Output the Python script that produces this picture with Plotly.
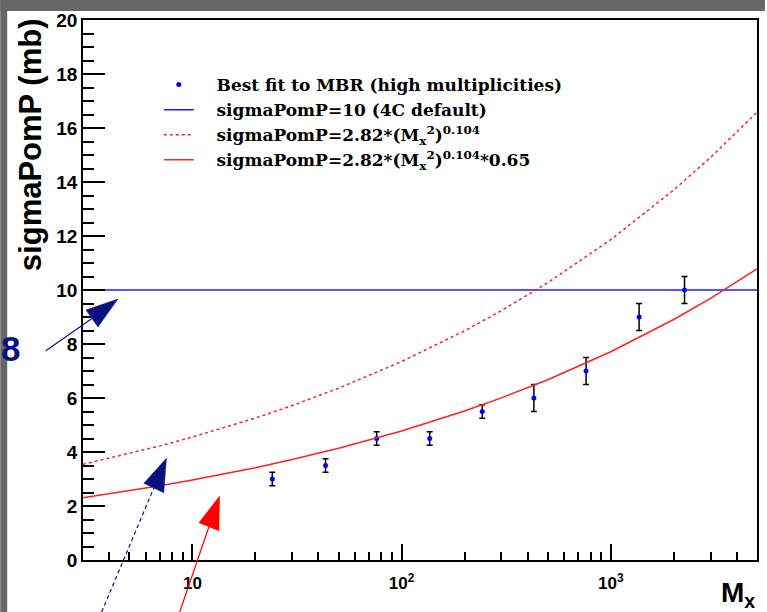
import plotly.graph_objects as go

# ---------------- data ----------------
mx_points = [24.1, 43.3, 76.0, 136.3, 243, 429, 762, 1366, 2252]
sigma_points = [3.0, 3.5, 4.5, 4.5, 5.5, 6.0, 7.0, 9.0, 10.0]
sigma_err = [0.25, 0.25, 0.25, 0.25, 0.25, 0.5, 0.5, 0.5, 0.5]

mx_default = [3, 5000]
sigma_default = [10, 10]

mx_curve = [3, 5, 7, 10, 20, 30, 50, 100, 200, 300, 500, 1000, 2000, 3000, 5000]
sigma_dashed = [3.544, 3.941, 4.227, 4.553, 5.258, 5.721, 6.363, 7.349, 8.489,
                9.236, 10.271, 11.865, 13.705, 14.911, 16.58]
sigma_scaled = [2.304, 2.562, 2.747, 2.959, 3.418, 3.719, 4.136, 4.777, 5.518,
                6.004, 6.676, 7.712, 8.908, 9.692, 10.78]

x_tickvals = [10, 100, 1000]
x_ticktext = ["10", "10<sup>2</sup>", "10<sup>3</sup>"]
x_minorvals = [4, 5, 6, 7, 8, 9, 20, 30, 40, 50, 60, 70, 80, 90,
               200, 300, 400, 500, 600, 700, 800, 900, 2000, 3000, 4000]

legend_names = [
    "Best fit to MBR (high multiplicities)",
    "sigmaPomP=10 (4C default)",
    "sigmaPomP=2.82*(M<sub>x</sub><sup>2</sup>)<sup>0.104</sup>",
    "sigmaPomP=2.82*(M<sub>x</sub><sup>2</sup>)<sup>0.104</sup>*0.65",
]

# ---------------- layout geometry ----------------
W, H = 767, 612
L, R, T, B = 83, 8, 20, 52
PW, PH = W - L - R, H - T - B


def px(x):
    return (x - L) / PW


def py(y):
    return (T + PH - y) / PH


SANS = "Liberation Sans, Arial, Helvetica, sans-serif"
SERIF = "DejaVu Serif, Liberation Serif, serif"
PAD = "\u00a0\u00a0\u00a0"

fig = go.Figure()

fig.add_trace(go.Scatter(
    x=mx_points, y=sigma_points, mode="markers", name=PAD + legend_names[0],
    marker=dict(color="#0000ff", size=5),
    error_y=dict(type="data", array=sigma_err, color="black", thickness=1.5, width=3),
))
fig.add_trace(go.Scatter(
    x=mx_default, y=sigma_default, mode="lines", name=PAD + legend_names[1],
    line=dict(color="#1a1aff", width=1.5),
))
fig.add_trace(go.Scatter(
    x=mx_curve, y=sigma_dashed, mode="lines", name=PAD + legend_names[2],
    line=dict(color="#ff2020", width=1.5, dash="3px,3px"),
))
fig.add_trace(go.Scatter(
    x=mx_curve, y=sigma_scaled, mode="lines", name=PAD + legend_names[3],
    line=dict(color="#ff2020", width=1.5),
))

axis_common = dict(
    showline=True, linecolor="black", linewidth=1.5, mirror=True,
    showgrid=False, zeroline=False, ticks="inside", tickcolor="black",
    tickwidth=1.5,
)

fig.update_xaxes(
    type="log", range=[0.4771, 3.699],
    tickmode="array", tickvals=x_tickvals, ticktext=x_ticktext, ticklen=16,
    ticklabelstandoff=7,
    tickfont=dict(family=SANS, size=17, color="black", weight="bold"),
    minor=dict(tickmode="array", tickvals=x_minorvals, ticks="inside",
               ticklen=8, tickwidth=1.5, tickcolor="black"),
    **axis_common,
)
fig.update_yaxes(
    range=[0, 20], dtick=2, tick0=0, ticklen=22,
    tickfont=dict(family=SANS, size=19, color="black", weight="bold"),
    minor=dict(dtick=0.5, ticks="inside", ticklen=11, tickwidth=1.5, tickcolor="black"),
    **axis_common,
)

shapes = []
# grey frame bands
shapes.append(dict(type="rect", xref="paper", yref="paper", x0=px(0), x1=px(W),
                   y0=py(11), y1=py(0), fillcolor="#666666", line=dict(width=0), layer="below"))
shapes.append(dict(type="rect", xref="paper", yref="paper", x0=px(0), x1=px(7),
                   y0=py(H), y1=py(0), fillcolor="#666666", line=dict(width=0), layer="below"))
# white right margin
shapes.append(dict(type="rect", xref="paper", yref="paper", x0=px(761), x1=px(W),
                   y0=py(H), y1=py(11), fillcolor="white", line=dict(width=0), layer="above"))

NAVY = "#0b1280"


def seg(x0, y0, x1, y1, color, dash="solid", width=1.2):
    return dict(type="line", xref="paper", yref="paper", x0=px(x0), y0=py(y0),
                x1=px(x1), y1=py(y1), line=dict(color=color, width=width, dash=dash))


def tri(p, color):
    path = "M {},{} L {},{} L {},{} Z".format(px(p[0][0]), py(p[0][1]), px(p[1][0]), py(p[1][1]),
                                             px(p[2][0]), py(p[2][1]))
    return dict(type="path", xref="paper", yref="paper", path=path, fillcolor=color,
                line=dict(color=color, width=0.5))


shapes.append(seg(45.7, 350.7, 92, 318.5, NAVY))
shapes.append(tri([(118, 299), (86, 310), (98, 327)], NAVY))
shapes.append(seg(101.7, 612, 154, 488, NAVY, dash="4px,3px"))
shapes.append(tri([(166.7, 458.3), (144, 483.3), (164, 492.7)], NAVY))
shapes.append(seg(180, 612, 209.3, 526.7, "#ff0000"))
shapes.append(tri([(220, 496), (199.3, 522.7), (219.3, 530.7)], "#ff0000"))

annotations = [
    dict(text="sigmaPomP (mb)", textangle=-90, xref="paper", yref="paper",
         x=px(30), y=py(145), xanchor="center", yanchor="middle", showarrow=False,
         font=dict(family=SANS, size=31, color="black", weight="bold")),
    dict(text="M<sub>x</sub>", xref="paper", yref="paper", x=px(759), y=py(594),
         xanchor="right", yanchor="middle", showarrow=False,
         font=dict(family=SANS, size=28, color="black", weight="bold")),
    dict(text="8", xref="paper", yref="paper", x=px(10), y=py(348),
         xanchor="center", yanchor="middle", showarrow=False,
         font=dict(family=SANS, size=35, color=NAVY, weight="bold")),
]

fig.update_layout(
    width=W, height=H, margin=dict(l=L, r=R, t=T, b=B),
    paper_bgcolor="white", plot_bgcolor="white",
    shapes=shapes, annotations=annotations,
    showlegend=True,
    legend=dict(x=px(159), y=py(67), xanchor="left", yanchor="top",
                bgcolor="rgba(0,0,0,0)", borderwidth=0,
                font=dict(family=SERIF, size=17, color="black", weight="bold"),
                tracegroupgap=0),
)

fig.write_html(
    "out.html",
    post_script="document.documentElement.style.overflow='hidden';"
                "document.body.style.overflow='hidden';document.body.style.margin='0';",
)
